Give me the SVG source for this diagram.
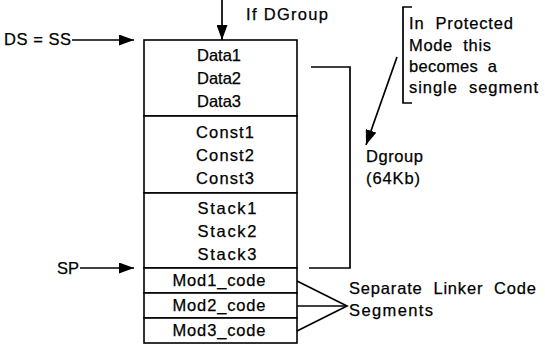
<svg xmlns="http://www.w3.org/2000/svg" width="545" height="345" viewBox="0 0 545 345">
<defs>
<marker id="ah" viewBox="0 0 15 11" refX="15" refY="5.5" markerWidth="15" markerHeight="11" markerUnits="userSpaceOnUse" orient="auto">
<path d="M0,0 L15,5.5 L0,11 Z" fill="#000"/>
</marker>
</defs>
<style>
text{font-family:"Liberation Sans",Arial,sans-serif;font-size:16.5px;fill:#000;stroke:#000;stroke-width:0.25;white-space:pre}
.c{text-anchor:middle}
.ln{stroke:#000;stroke-width:1.7;fill:none}
.bx{stroke:#000;stroke-width:1.6;fill:#fff}
</style>
<rect width="545" height="345" fill="#fff"/>
<g id="data"><rect class="bx" x="144" y="40" width="153" height="76"/>
<text class="c" x="219" y="61" textLength="44" lengthAdjust="spacing">Data1</text><text class="c" x="219" y="84" textLength="44" lengthAdjust="spacing">Data2</text><text class="c" x="219" y="107" textLength="44" lengthAdjust="spacing">Data3</text></g>
<g id="const"><rect class="bx" x="144" y="116" width="153" height="77"/>
<text class="c" x="225" y="138" textLength="58" lengthAdjust="spacing">Const1</text><text class="c" x="225" y="161" textLength="58" lengthAdjust="spacing">Const2</text><text class="c" x="225" y="184" textLength="58" lengthAdjust="spacing">Const3</text></g>
<g id="stack"><rect class="bx" x="144" y="193" width="153" height="75"/>
<text class="c" x="227" y="214" textLength="59" lengthAdjust="spacing">Stack1</text><text class="c" x="227" y="237" textLength="59" lengthAdjust="spacing">Stack2</text><text class="c" x="227" y="260" textLength="59" lengthAdjust="spacing">Stack3</text></g>
<g id="mod1"><rect class="bx" x="144" y="268" width="153" height="25"/><text class="c" x="219" y="286" textLength="93" lengthAdjust="spacing">Mod1_code</text></g>
<g id="mod2"><rect class="bx" x="144" y="293" width="153" height="25"/><text class="c" x="219" y="311" textLength="93" lengthAdjust="spacing">Mod2_code</text></g>
<g id="mod3"><rect class="bx" x="144" y="318" width="153" height="25"/><text class="c" x="219" y="336" textLength="93" lengthAdjust="spacing">Mod3_code</text></g>
<g id="labels">
<text x="4" y="45" textLength="67" lengthAdjust="spacing">DS = SS</text>
<text x="57" y="274" textLength="22" lengthAdjust="spacing">SP</text>
<text x="246" y="20" textLength="82" lengthAdjust="spacing">If DGroup</text>
<text x="409" y="29" textLength="104" lengthAdjust="spacing">In  Protected</text>
<text x="409" y="51" textLength="82" lengthAdjust="spacing">Mode  this</text>
<text x="409" y="72" textLength="88" lengthAdjust="spacing">becomes  a</text>
<text x="409" y="93" textLength="129" lengthAdjust="spacing">single  segment</text>
<text x="366" y="162" textLength="57" lengthAdjust="spacing">Dgroup</text>
<text x="366" y="184" textLength="54" lengthAdjust="spacing">(64Kb)</text>
<text x="349" y="294" textLength="187" lengthAdjust="spacing">Separate  Linker  Code</text>
<text x="349" y="316" textLength="84" lengthAdjust="spacing">Segments</text>
</g>
<g id="connectors">
<line class="ln" x1="222" y1="0" x2="222" y2="40" marker-end="url(#ah)"/>
<line class="ln" x1="72" y1="40" x2="134" y2="40" marker-end="url(#ah)"/>
<line class="ln" x1="80" y1="268" x2="134" y2="268" marker-end="url(#ah)"/>
<polyline class="ln" points="311,67 350,67 350,268 309,268"/>
<polyline class="ln" points="412,7 403,7 403,103 412,103"/>
<line class="ln" x1="397" y1="57" x2="366" y2="145" marker-end="url(#ah)"/>
<polyline class="ln" points="297,281 347,306 297,331"/>
<line class="ln" x1="297" y1="306" x2="347" y2="306"/>
</g>
</svg>
